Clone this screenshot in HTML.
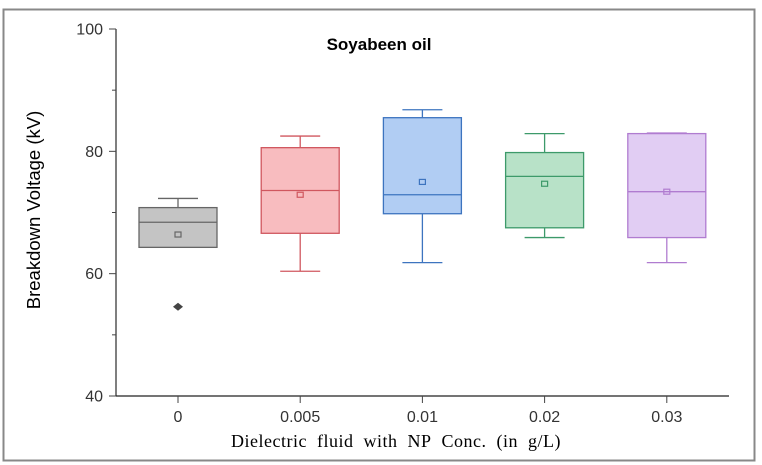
<!DOCTYPE html>
<html><head><meta charset="utf-8"><style>
html,body{margin:0;padding:0;background:#fff;width:762px;height:465px;overflow:hidden}
svg text{font-family:"Liberation Sans",Arial,sans-serif}
</style></head><body>
<svg id="chart" width="762" height="465" xmlns="http://www.w3.org/2000/svg">
<rect x="3.5" y="9.5" width="751" height="451" fill="#fff" stroke="#888" stroke-width="2"/>
<text x="379" y="50" text-anchor="middle" font-size="17" font-weight="bold">Soyabeen oil</text>
<text transform="translate(40,210) rotate(-90)" text-anchor="middle" font-size="18.5">Breakdown Voltage (kV)</text>
<text x="396" y="447" text-anchor="middle" font-size="18" style="font-family:'Liberation Serif',serif" letter-spacing="0.5">Dielectric&#160; fluid&#160; with&#160; NP&#160; Conc.&#160; (in&#160; g/L)</text>
<g id="axes"></g>
<g id="boxes"></g>
</svg>
<script>
const categories = ["0","0.005","0.01","0.02","0.03"];
const whiskerHigh = [72.3, 82.5, 86.8, 82.9, 83.0];
const q3 = [70.8, 80.6, 85.5, 79.8, 82.9];
const median = [68.4, 73.6, 72.9, 75.9, 73.4];
const mean = [66.4, 72.9, 75.0, 74.7, 73.4];
const q1 = [64.3, 66.6, 69.8, 67.5, 65.9];
const whiskerLow = [64.3, 60.4, 61.8, 65.9, 61.8];
const outliers = [[54.6], [], [], [], []];
const yTicks = [40, 60, 80, 100];
const yMinorTicks = [50, 70, 90];
const strokes = ["#666666","#d0575f","#3d74bf","#3d9a6a","#b07cd0"];
const fills = ["#c4c4c4","#f8bcbf","#b1cdf3","#b8e2c8","#e1cdf3"];

const X0=116, X1=729, Y0=396, Y1=29;
const yScale = v => Y0 - (v-40)/(100-40)*(Y0-Y1);
const xScale = i => 178 + i*122.2;
const NS="http://www.w3.org/2000/svg";
function mk(tag, attrs, parent){const e=document.createElementNS(NS,tag);for(const k in attrs)e.setAttribute(k,attrs[k]);parent.appendChild(e);return e;}
const axes=document.getElementById('axes'), boxes=document.getElementById('boxes');

let l=mk('line',{x1:X0,y1:Y1,x2:X0,y2:Y0,stroke:'#555','stroke-width':1.5},axes);


l=mk('line',{x1:X0,y1:Y0,x2:X1,y2:Y0,stroke:'#222','stroke-width':1.2},axes);


yTicks.forEach(v=>{
  const t=mk('line',{x1:X0-7,y1:yScale(v),x2:X0,y2:yScale(v),stroke:'#444'},axes);
  
  
  const tx=mk('text',{x:X0-13,y:yScale(v)+5.5,'text-anchor':'end','font-size':16,fill:'#333'},axes);
  tx.textContent=v;
  
  
});
yMinorTicks.forEach(v=>{
  const t=mk('line',{x1:X0-4,y1:yScale(v),x2:X0,y2:yScale(v),stroke:'#444'},axes);
  
  
});
categories.forEach((c,i)=>{
  const x=xScale(i);
  const t=mk('line',{x1:x,y1:Y0,x2:x,y2:Y0+7,stroke:'#444'},axes);
  
  
  const tx=mk('text',{x:x,y:Y0+26,'text-anchor':'middle','font-size':16,fill:'#333'},axes);
  tx.textContent=c;
  
  

  const g=mk('g',{},boxes);
  
  
  const s=strokes[i], bw=78, cw=40;
  mk('line',{x1:x,y1:yScale(whiskerHigh[i]),x2:x,y2:yScale(q3[i]),stroke:s,'stroke-width':1.3},g);
  mk('line',{x1:x-cw/2,y1:yScale(whiskerHigh[i]),x2:x+cw/2,y2:yScale(whiskerHigh[i]),stroke:s,'stroke-width':1.3},g);
  mk('line',{x1:x,y1:yScale(q1[i]),x2:x,y2:yScale(whiskerLow[i]),stroke:s,'stroke-width':1.3},g);
  if(whiskerLow[i]<q1[i]) mk('line',{x1:x-cw/2,y1:yScale(whiskerLow[i]),x2:x+cw/2,y2:yScale(whiskerLow[i]),stroke:s,'stroke-width':1.3},g);
  mk('rect',{x:x-bw/2,y:yScale(q3[i]),width:bw,height:yScale(q1[i])-yScale(q3[i]),fill:fills[i],stroke:s,'stroke-width':1.3},g);
  mk('line',{x1:x-bw/2,y1:yScale(median[i]),x2:x+bw/2,y2:yScale(median[i]),stroke:s,'stroke-width':1.3},g);
  mk('rect',{x:x-3,y:yScale(mean[i])-2.5,width:6,height:5,fill:'none',stroke:s,'stroke-width':1.2},g);
  outliers[i].forEach(o=>{
    const d=mk('path',{d:`M${x-5},${yScale(o)} L${x},${yScale(o)-4} L${x+5},${yScale(o)} L${x},${yScale(o)+4} Z`,fill:'#444'},g);
    
    
  });
});
</script>
</body></html>
